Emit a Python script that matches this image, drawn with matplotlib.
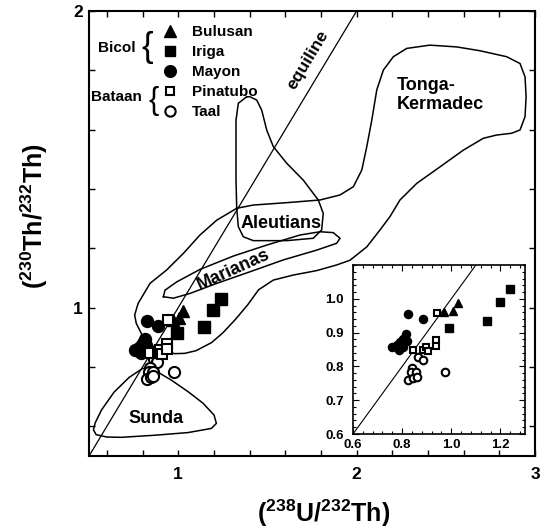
import numpy as np
import matplotlib
matplotlib.use('Agg')
import matplotlib.pyplot as plt
from matplotlib.lines import Line2D

plt.rcParams['font.family'] = ['Liberation Sans', 'DejaVu Sans']
plt.rcParams['font.weight'] = 'bold'
plt.rcParams['mathtext.fontset'] = 'custom'
plt.rcParams['mathtext.rm'] = 'Liberation Sans:bold'
plt.rcParams['mathtext.bf'] = 'Liberation Sans:bold'
plt.rcParams['mathtext.default'] = 'rm'

# ---------------- data ----------------
bulusan_x = [1.028, 1.007, 0.972]
bulusan_y = [0.989, 0.965, 0.960]
iriga_x = [0.992, 1.145, 1.197, 1.239]
iriga_y = [0.915, 0.935, 0.992, 1.028]
mayon_x = [0.825, 0.886, 0.757, 0.778, 0.791, 0.805, 0.814, 0.789, 0.805, 0.821]
mayon_y = [0.956, 0.939, 0.856, 0.863, 0.872, 0.882, 0.895, 0.848, 0.856, 0.875]
pinatubo_x = [0.943, 0.843, 0.884, 0.897, 0.907, 0.938, 0.938]
pinatubo_y = [0.958, 0.848, 0.850, 0.856, 0.845, 0.879, 0.860]
taal_x = [0.866, 0.883, 0.842, 0.836, 0.858, 0.823, 0.845, 0.860, 0.974]
taal_y = [0.828, 0.818, 0.796, 0.782, 0.784, 0.760, 0.765, 0.770, 0.782]

equiline = [0.5, 2.0]

tonga_x = [1.328, 1.421, 1.608, 1.795, 1.907, 1.982, 2.029, 2.057, 2.085, 2.113, 2.150, 2.206,
           2.281, 2.411, 2.561, 2.692, 2.841, 2.916, 2.944, 2.950, 2.944, 2.916, 2.869, 2.785,
           2.710, 2.598, 2.468, 2.337, 2.243, 2.187, 2.131, 2.057, 1.963, 1.888, 1.776, 1.645,
           1.533, 1.45, 1.39, 1.32, 1.25, 1.186, 1.10, 1.036, 0.98, 0.92, 0.86, 0.80, 0.765,
           0.756, 0.775, 0.842, 0.935, 1.029, 1.122, 1.216, 1.328]
tonga_y = [1.335, 1.346, 1.354, 1.363, 1.380, 1.408, 1.464, 1.543, 1.632, 1.734, 1.801, 1.846,
           1.874, 1.885, 1.879, 1.866, 1.846, 1.823, 1.778, 1.711, 1.644, 1.599, 1.588, 1.582,
           1.571, 1.531, 1.475, 1.419, 1.363, 1.307, 1.262, 1.205, 1.160, 1.144, 1.125, 1.110,
           1.093, 1.06, 1.01, 0.96, 0.915, 0.882, 0.855, 0.846, 0.845, 0.855, 0.870, 0.905, 0.947,
           0.975, 1.014, 1.082, 1.127, 1.183, 1.245, 1.295, 1.335]
aleut_x = [1.384, 1.337, 1.324, 1.324, 1.324, 1.328, 1.337, 1.365, 1.421, 1.608, 1.757, 1.804,
           1.813, 1.785, 1.701, 1.608, 1.533, 1.496, 1.468, 1.440, 1.402, 1.384]
aleut_y = [1.711, 1.689, 1.632, 1.542, 1.430, 1.335, 1.273, 1.239, 1.226, 1.226, 1.234, 1.262,
           1.318, 1.363, 1.430, 1.487, 1.543, 1.599, 1.666, 1.700, 1.711, 1.711]
mar_x = [0.917, 0.926, 0.992, 1.122, 1.309, 1.496, 1.683, 1.795, 1.869, 1.907, 1.888, 1.776,
         1.589, 1.402, 1.216, 1.066, 0.973, 0.917]
mar_y = [1.037, 1.059, 1.087, 1.129, 1.174, 1.211, 1.245, 1.256, 1.253, 1.234, 1.217, 1.194,
         1.161, 1.121, 1.082, 1.048, 1.032, 1.037]
sunda_x = [0.849, 0.896, 0.961, 1.055, 1.139, 1.201, 1.214, 1.186, 1.055, 0.868, 0.681, 0.600,
           0.540, 0.525, 0.535, 0.570, 0.640, 0.725, 0.800, 0.849]
sunda_y = [0.796, 0.779, 0.756, 0.717, 0.678, 0.638, 0.610, 0.593, 0.579, 0.570, 0.563, 0.564,
           0.572, 0.588, 0.612, 0.655, 0.715, 0.765, 0.795, 0.796]

main_xticks = [0.6, 0.8, 1.0, 1.2, 1.4, 1.6, 1.8, 2.0, 2.2, 2.4, 2.6, 2.8, 3.0]
main_yticks = [0.6, 0.8, 1.0, 1.2, 1.4, 1.6, 1.8, 2.0]
main_labeled = [1, 2, 3]
inset_xticks = [0.6, 0.8, 1.0, 1.2]
inset_yticks = [0.6, 0.7, 0.8, 0.9, 1.0]

# ---------------- figure ----------------
fig = plt.figure(figsize=(5.44, 5.30), dpi=100)
ax = fig.add_axes([0.1636, 0.1396, 0.8199, 0.8396])
ax.set_xlim(0.5, 3.0)
ax.set_ylim(0.5, 2.0)

for xs, ys in [(tonga_x, tonga_y), (aleut_x, aleut_y), (mar_x, mar_y), (sunda_x, sunda_y)]:
    ax.plot(xs, ys, color='black', lw=1.1, solid_joinstyle='round', zorder=2)
ax.plot(equiline, equiline, color='black', lw=0.9, zorder=2)

def draw_points(a, scale):
    a.plot(taal_x, taal_y, 'o', ms=8.0 * scale, mfc='white', mec='black', mew=1.5, zorder=5)
    a.plot(pinatubo_x, pinatubo_y, 's', ms=6.5 * scale, mfc='white', mec='black', mew=1.5, zorder=6)
    a.plot(mayon_x, mayon_y, 'o', ms=8.6 * scale, color='black', zorder=5)
    a.plot(iriga_x, iriga_y, 's', ms=8.0 * scale, color='black', zorder=5)
    a.plot(bulusan_x, bulusan_y, '^', ms=9.0 * scale, color='black', zorder=5)

draw_points(ax, 1.0)

def fmt(v):
    return str(int(round(v))) if any(abs(v - m) < 1e-6 for m in main_labeled) else ''

ax.set_xticks(main_xticks)
ax.set_xticklabels([fmt(v) for v in main_xticks])
ax.set_yticks(main_yticks)
ax.set_yticklabels([fmt(v) for v in main_yticks])
ax.tick_params(direction='in', length=4, width=1.0, top=True, right=True, labelsize=12.5)
ax.tick_params(axis='x', pad=8)
ax.tick_params(axis='y', pad=4.5)
for s in ax.spines.values():
    s.set_linewidth(1.5)

ax.set_xlabel(r'($^{238}$U/$^{232}$Th)', fontsize=18, fontweight='bold')
ax.set_ylabel(r'($^{230}$Th/$^{232}$Th)', fontsize=18, fontweight='bold')
ax.xaxis.set_label_coords(0.527, -0.094)
ax.yaxis.set_label_coords(-0.088, 0.54)

# field labels
ax.text(1.728, 1.835, 'equiline', rotation=59, rotation_mode='anchor', ha='center', va='center', fontsize=12.5)
ax.text(2.226, 1.718, 'Tonga-\nKermadec', ha='left', va='center', fontsize=13, linespacing=1.15)
ax.text(1.577, 1.284, 'Aleutians', ha='center', va='center', fontsize=13)
ax.text(1.309, 1.127, 'Marianas', rotation=24.4, rotation_mode='anchor', ha='center', va='center', fontsize=13)
ax.text(0.877, 0.627, 'Sunda', ha='center', va='center', fontsize=13)

# legend
handles = [
    Line2D([], [], ls='none', marker='^', ms=9.0, color='black', label='Bulusan'),
    Line2D([], [], ls='none', marker='s', ms=7.8, color='black', label='Iriga'),
    Line2D([], [], ls='none', marker='o', ms=8.4, color='black', label='Mayon'),
    Line2D([], [], ls='none', marker='s', ms=6.2, mfc='white', mec='black', mew=1.5, label='Pinatubo'),
    Line2D([], [], ls='none', marker='o', ms=7.4, mfc='white', mec='black', mew=1.5, label='Taal'),
]
leg = ax.legend(handles=handles, loc='upper left', bbox_to_anchor=(0.1646, 0.968), frameon=False,
                handlelength=1.0, handletextpad=0.92, labelspacing=0.39, borderaxespad=0, borderpad=0,
                prop={'size': 11, 'weight': 'bold'})
ax.text(0.655, 1.877, 'Bicol', ha='center', va='center', fontsize=11)
ax.text(0.655, 1.709, 'Bataan', ha='center', va='center', fontsize=11)
ax.text(0.828, 1.877, '{', ha='center', va='center', fontsize=25, fontweight='normal')
ax.text(0.864, 1.696, '{', ha='center', va='center', fontsize=22, fontweight='normal')

# ---------------- inset ----------------
ins = fig.add_axes([0.6489, 0.1811, 0.3162, 0.3189])
ins.set_facecolor('white')
ins.set_zorder(10)
ins.set_xlim(0.6, 1.3)
ins.set_ylim(0.6, 1.1)
ins.plot(equiline, equiline, color='black', lw=0.8, zorder=2)
draw_points(ins, 0.68)
ins.set_xticks(inset_xticks)
ins.set_xticklabels(['%.1f' % v for v in inset_xticks])
ins.set_yticks(inset_yticks)
ins.set_yticklabels(['%.1f' % v for v in inset_yticks])
ins.set_xticks(np.arange(0.6, 1.3001, 0.04), minor=True)
ins.set_yticks(np.arange(0.6, 1.1001, 0.02), minor=True)
ins.tick_params(which='both', direction='in', top=True, right=True, width=0.8)
ins.tick_params(which='major', length=4, labelsize=9.5)
ins.tick_params(which='minor', length=2)
ins.tick_params(axis='x', pad=3.5)
ins.tick_params(axis='y', pad=6.5)
for s in ins.spines.values():
    s.set_linewidth(1.2)

fig.savefig('out.png', dpi=100)
